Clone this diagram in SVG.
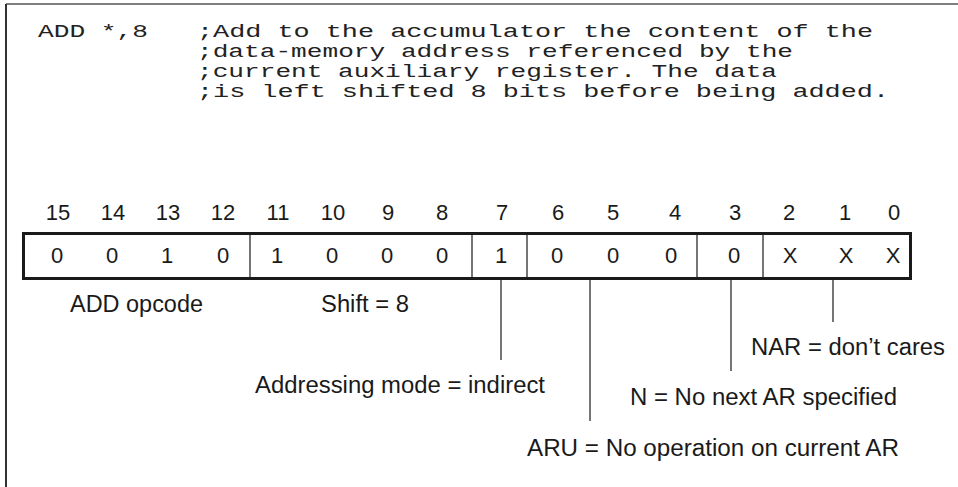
<svg xmlns="http://www.w3.org/2000/svg" width="958" height="487" viewBox="0 0 958 487">
<style>
.code{font-family:"Liberation Mono","Courier New",monospace;font-size:18px;fill:#222}
.lbl{font-family:"Liberation Sans",Arial,sans-serif;font-size:23px;fill:#1a1a1a}
.num{font-family:"Liberation Sans",Arial,sans-serif;font-size:22px;fill:#1a1a1a;text-anchor:middle}
.thin{stroke:#1a1a1a;stroke-width:1.2;fill:none}
</style>
<rect width="958" height="487" fill="#ffffff"/>
<g id="frame">
<line x1="6" y1="4" x2="958" y2="4" stroke="#555" stroke-width="1.5"/>
<line x1="6" y1="4" x2="6" y2="487" stroke="#333" stroke-width="2"/>
</g>
<g id="code">
<text class="code" x="38" y="37" textLength="110" lengthAdjust="spacingAndGlyphs">ADD *,8</text>
<text class="code" x="197" y="37" textLength="676" lengthAdjust="spacingAndGlyphs">;Add to the accumulator the content of the</text>
<text class="code" x="197" y="57" textLength="596" lengthAdjust="spacingAndGlyphs">;data-memory address referenced by the</text>
<text class="code" x="197" y="77" textLength="580" lengthAdjust="spacingAndGlyphs">;current auxiliary register. The data</text>
<text class="code" x="197" y="97" textLength="692" lengthAdjust="spacingAndGlyphs">;is left shifted 8 bits before being added.</text>
</g>
<g id="bit-numbers">
<text class="num" x="58" y="220">15</text>
<text class="num" x="113" y="220">14</text>
<text class="num" x="168" y="220">13</text>
<text class="num" x="223" y="220">12</text>
<text class="num" x="278" y="220">11</text>
<text class="num" x="333" y="220">10</text>
<text class="num" x="388" y="220">9</text>
<text class="num" x="442" y="220">8</text>
<text class="num" x="502" y="220">7</text>
<text class="num" x="558" y="220">6</text>
<text class="num" x="613" y="220">5</text>
<text class="num" x="675" y="220">4</text>
<text class="num" x="735" y="220">3</text>
<text class="num" x="789" y="220">2</text>
<text class="num" x="845" y="220">1</text>
<text class="num" x="894" y="220">0</text>
</g>
<g id="register">
<rect x="23.5" y="233.5" width="887" height="45" fill="none" stroke="#1a1a1a" stroke-width="3"/>
<line class="thin" x1="250" y1="234" x2="250" y2="278"/>
<line class="thin" x1="472" y1="234" x2="472" y2="278"/>
<line class="thin" x1="527" y1="234" x2="527" y2="278"/>
<line class="thin" x1="697" y1="234" x2="697" y2="278"/>
<line class="thin" x1="763" y1="234" x2="763" y2="278"/>
<text class="num" x="57" y="263">0</text>
<text class="num" x="112" y="263">0</text>
<text class="num" x="167" y="263">1</text>
<text class="num" x="223" y="263">0</text>
<text class="num" x="277" y="263">1</text>
<text class="num" x="332" y="263">0</text>
<text class="num" x="387" y="263">0</text>
<text class="num" x="442" y="263">0</text>
<text class="num" x="501" y="263">1</text>
<text class="num" x="557" y="263">0</text>
<text class="num" x="613" y="263">0</text>
<text class="num" x="671" y="263">0</text>
<text class="num" x="734" y="263">0</text>
<text class="num" x="790" y="263">X</text>
<text class="num" x="846" y="263">X</text>
<text class="num" x="893" y="263">X</text>
</g>
<g id="connectors">
<line class="thin" x1="501" y1="280" x2="501" y2="360"/>
<line class="thin" x1="590" y1="280" x2="590" y2="421"/>
<line class="thin" x1="731" y1="280" x2="731" y2="371"/>
<line class="thin" x1="833" y1="280" x2="833" y2="322"/>
</g>
<g id="labels">
<text class="lbl" x="70" y="312" textLength="133" lengthAdjust="spacingAndGlyphs">ADD opcode</text>
<text class="lbl" x="321" y="312" textLength="88" lengthAdjust="spacingAndGlyphs">Shift = 8</text>
<text class="lbl" x="255" y="393" textLength="290" lengthAdjust="spacingAndGlyphs">Addressing mode = indirect</text>
<text class="lbl" x="751" y="355" textLength="194" lengthAdjust="spacingAndGlyphs">NAR = don’t cares</text>
<text class="lbl" x="630" y="405" textLength="267" lengthAdjust="spacingAndGlyphs">N = No next AR specified</text>
<text class="lbl" x="527" y="456" textLength="372" lengthAdjust="spacingAndGlyphs">ARU = No operation on current AR</text>
</g>
</svg>
